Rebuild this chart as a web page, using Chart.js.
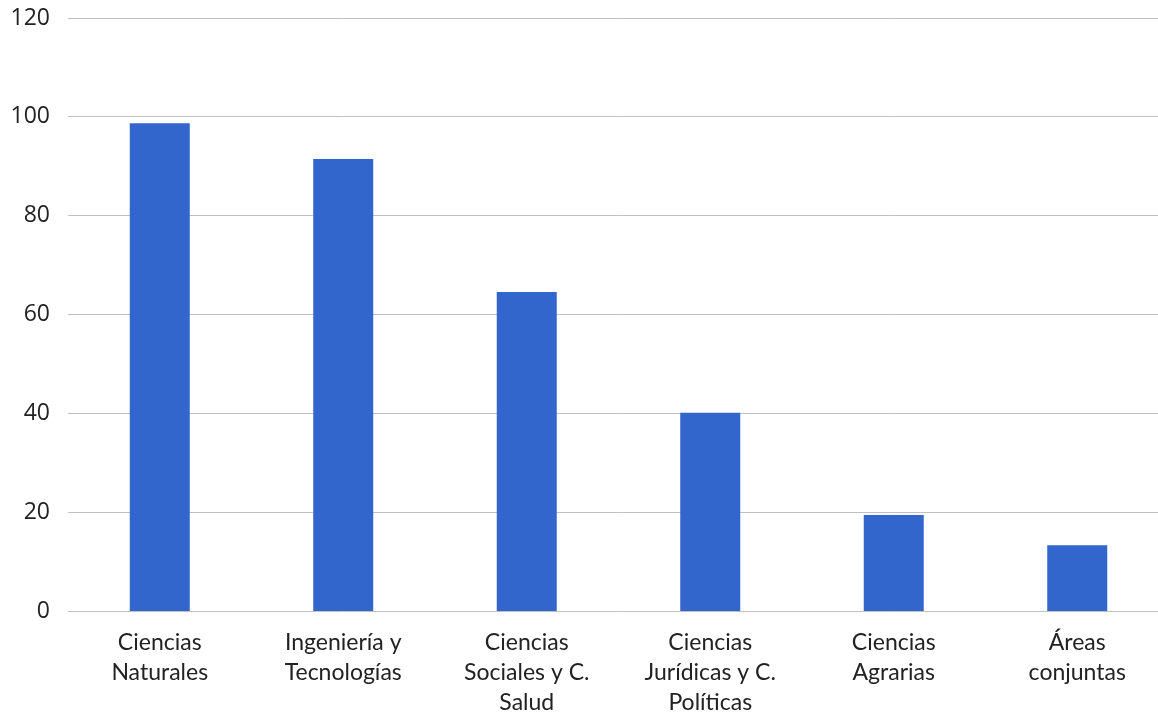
<!DOCTYPE html>
<html>
<head>
<meta charset="utf-8">
<script src="https://cdn.jsdelivr.net/npm/chart.js@4/dist/chart.umd.min.js"></script>
<style>
html,body{margin:0;padding:0;background:#fff;overflow:hidden;}
#wrap{position:relative;width:1170px;height:715px;}
</style>
</head>
<body>
<div id="wrap"><canvas id="c"></canvas></div>
<script>
const categories = [
  ["Ciencias", "Naturales"],
  ["Ingeniería y", "Tecnologías"],
  ["Ciencias", "Sociales y C.", "Salud"],
  ["Ciencias", "Jurídicas y C.", "Políticas"],
  ["Ciencias", "Agrarias"],
  ["Áreas", "conjuntas"]
];
const values = [98.7, 91.5, 64.6, 40.2, 19.5, 13.4];
const yTicks = [0, 20, 40, 60, 80, 100, 120];

new Chart(document.getElementById('c'), {
  type: 'bar',
  data: {
    labels: categories,
    datasets: [{
      data: values,
      backgroundColor: '#3366CC',
      borderWidth: 0,
      categoryPercentage: 1,
      barPercentage: 0.327
    }]
  },
  options: {
    responsive: true,
    maintainAspectRatio: false,
    animation: false,
    layout: { padding: { top: 18, left: 0, right: 1, bottom: 0 } },
    plugins: { legend: { display: false }, tooltip: { enabled: false } },
    scales: {
      x: {
        grid: { display: false, drawTicks: false },
        border: { display: false },
        ticks: {
          color: '#222',
          font: { family: 'Lato', size: 23, lineHeight: 1.3 },
          padding: 16,
          maxRotation: 0,
          autoSkip: false
        },
        afterFit: s => { s.height = 103.5; }
      },
      y: {
        min: 0, max: 120,
        afterBuildTicks: s => { s.ticks = yTicks.map(v => ({ value: v })); },
        grid: { color: '#c0c0c0', lineWidth: 1, drawTicks: false },
        border: { display: false },
        ticks: {
          color: '#222',
          font: { family: 'Open Sans', size: 23 },
          padding: 18
        },
        afterFit: s => { s.width = 68; s.paddingTop = 0; s.paddingBottom = 0; }
      }
    }
  }
});
</script>
</body>
</html>
